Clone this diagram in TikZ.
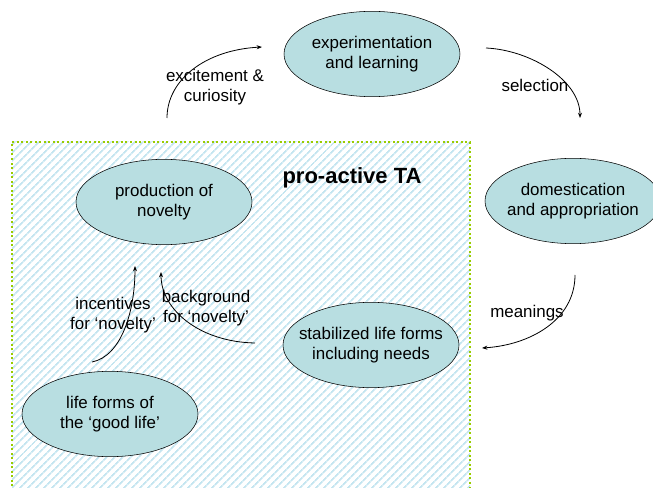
\documentclass[tikz,border=0pt]{standalone}
\usepackage{fontspec}
\setmainfont{Liberation Sans}
\usetikzlibrary{shapes.geometric,patterns.meta,arrows.meta}
\definecolor{blobfill}{RGB}{184,222,225}
\definecolor{hatch}{RGB}{196,229,240}
\definecolor{dotgreen}{RGB}{153,204,0}
\begin{document}
\begin{tikzpicture}[x=0.75pt,y=-0.75pt,
  blob/.style={ellipse,draw,fill=blobfill,minimum width=132pt,minimum height=64pt,inner ysep=0pt,inner xsep=-16pt,align=center,font=\fontsize{12.7}{15}\selectfont},
  lbl/.style={align=center,font=\fontsize{12.7}{15}\selectfont,inner sep=0pt},
  arr/.style={-{Stealth[length=4pt,width=3pt]},line width=0.6pt}]

       \useasboundingbox (0,0) rectangle (653,488);
       \clip (0,0) rectangle (653,488);

       % pro-active area
       \fill[white] (12,142) rectangle (470,500);
       \fill[pattern={Lines[angle=45,distance=4pt,line width=1.4pt]},pattern color=hatch] (12,142) rectangle (470,500);
       \draw[dotgreen,line width=1.5pt,dash pattern=on 1.5pt off 1.9pt] (12,500) -- (12,142) -- (470,142) -- (470,500);
       \node[font=\fontsize{16.5}{20}\selectfont\bfseries] (ta) at (352,178) {pro-active TA};

       \node[blob] (exp) at (372,54) {experimentation\\and learning};
       \node[blob] (dom) at (573,201) {domestication\\and appropriation};
       \node[blob] (stab) at (371,345) {stabilized life forms\\including needs};
       \node[blob] (prod) at (164,202) {production of\\novelty};
       \node[blob] (good) at (110,414) {life forms of\\the `good life'};

       \coordinate (a1) at (167,118);  \coordinate (b1) at (262,47);
       \coordinate (a2) at (486,48);   \coordinate (b2) at (580,118);
       \coordinate (a3) at (575,275);  \coordinate (b3) at (482,348);
       \coordinate (a4) at (92,362);   \coordinate (b4) at (135,266);
       \coordinate (a5) at (255,343);  \coordinate (b5) at (161,272);

       \draw[arr] (a1) .. controls (167,80) and (205,50) .. (b1);
       \draw[arr] (a2) .. controls (530,50) and (580,80) .. (b2);
       \draw[arr] (a3) .. controls (575,320) and (530,345) .. (b3);
       \draw[arr] (a4) .. controls (122,356) and (135,310) .. (b4);
       \draw[arr] (a5) .. controls (200,342) and (161,310) .. (b5);

       \node[lbl] (l1) at (215,87) {excitement \&\\curiosity};
       \node[lbl] (l2) at (535,85) {selection};
       \node[lbl] (l3) at (527,313) {meanings};
       \node[lbl] (l4) at (113,315) {incentives\\for `novelty'};
       \node[lbl] (l5) at (206,308) {background\\for `novelty'};
     \end{tikzpicture}
\end{document}
